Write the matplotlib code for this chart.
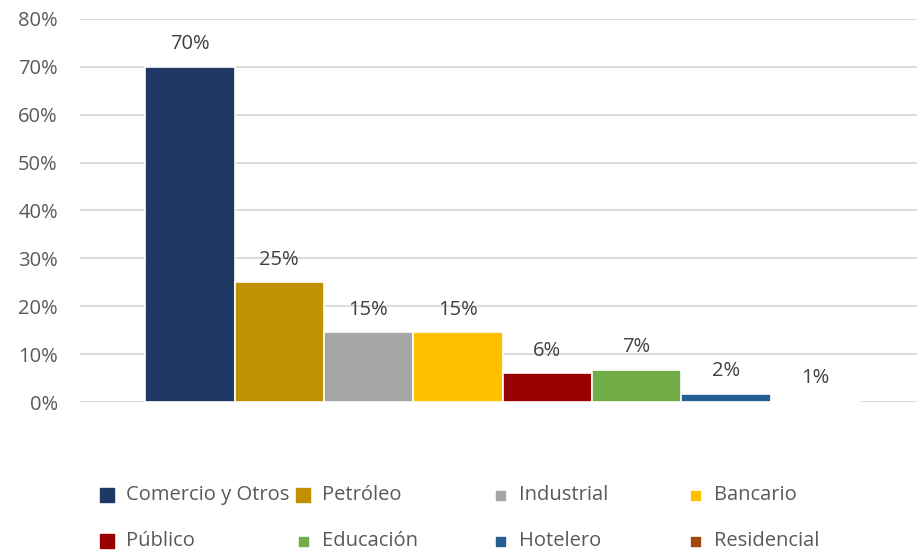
import matplotlib.pyplot as plt
from matplotlib.patches import Rectangle

# Data
sectors = ['Comercio y Otros', 'Petróleo', 'Industrial', 'Bancario',
           'Público', 'Educación', 'Hotelero', 'Residencial']
shares = [70, 25, 14.6, 14.6, 6.0, 6.7, 1.7, 0.3]
share_labels = ['70%', '25%', '15%', '15%', '6%', '7%', '2%', '1%']
colors = ['#203864', '#BF9000', '#A5A5A5', '#FFC000',
          '#990000', '#70AD47', '#255E91', '#9E480E']
legend_marker = [14, 14, 9, 9, 14, 9, 9, 9]

plt.rcParams['font.family'] = ['Open Sans', 'DejaVu Sans']
text_color = '#595959'
fs = 14.5

fig = plt.figure(figsize=(9.17, 5.5), dpi=100)
ax = fig.add_axes([80 / 917, 148 / 550, 837 / 917, 383 / 550])

x = list(range(len(sectors)))
bars = ax.bar(x, shares, width=1.0, color=colors, edgecolor='white',
              linewidth=1.2, zorder=3)
ax.bar_label(bars, labels=share_labels, padding=9, fontsize=fs,
             color='#404040')

ax.set_xlim(-1.23, 8.14)
ax.set_ylim(0, 80)
ax.set_yticks(range(0, 81, 10))
ax.set_yticklabels([f'{v}%' for v in range(0, 81, 10)])
ax.tick_params(axis='y', length=0, pad=16, labelsize=fs, labelcolor=text_color)
ax.set_xticks([])
ax.grid(axis='y', color='#D9D9D9', linewidth=1.3, zorder=0)
for s in ax.spines.values():
    s.set_visible(False)

# legend, laid out in two rows of four like the original
col_x = [107, 303, 500, 695]
row_y = [495, 541]
for i, name in enumerate(sectors):
    cx = col_x[i % 4]
    cy = row_y[i // 4]
    sz = legend_marker[i]
    fig.add_artist(Rectangle(((cx - sz / 2) / 917, (550 - cy - sz / 2) / 550),
                             sz / 917, sz / 550, color=colors[i],
                             transform=fig.transFigure))
    fig.text((cx + 19) / 917, (550 - cy) / 550, name, fontsize=fs,
             color=text_color, va='center', ha='left')

fig.savefig('out.png', dpi=100)
